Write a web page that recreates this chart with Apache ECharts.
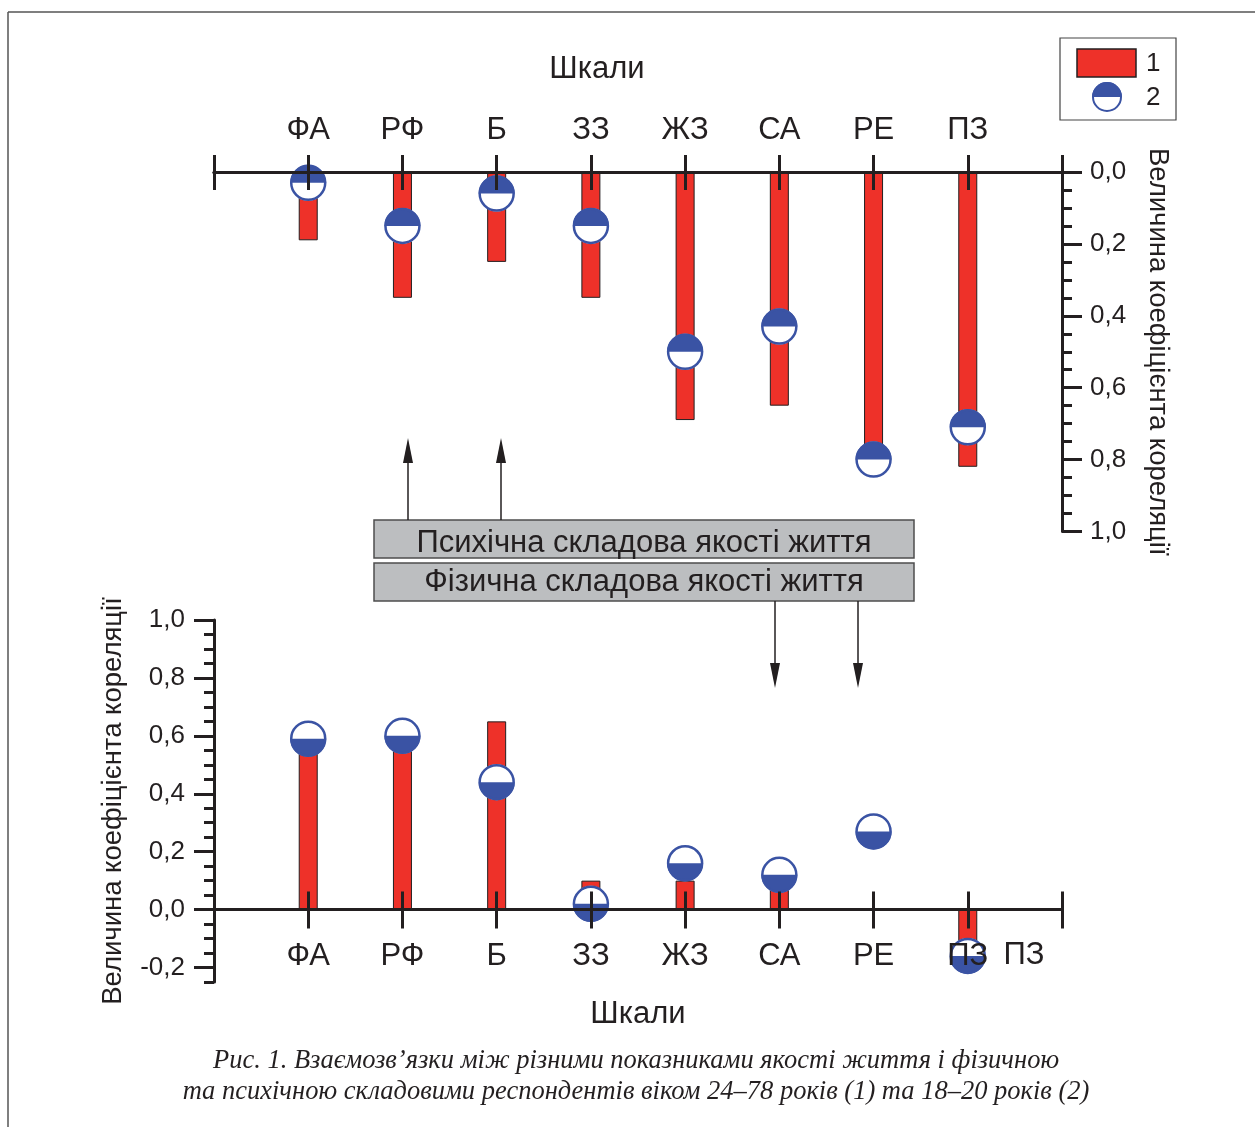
<!DOCTYPE html>
<html>
<head>
<meta charset="utf-8">
<script src="https://cdn.jsdelivr.net/npm/echarts@6/dist/echarts.min.js"></script>
<style>
html,body{margin:0;padding:0;background:#fff;}
#main{width:1255px;height:1127px;}
</style>
</head>
<body>
<div id="main"></div>
<script>
// ---- data ----
const categories = ['ФА', 'РФ', 'Б', 'ЗЗ', 'ЖЗ', 'СА', 'РЕ', 'ПЗ'];
// psychological component (top panel)
const psychGroup1 = [0.19, 0.35, 0.25, 0.35, 0.69, 0.65, 0.80, 0.82];
const psychGroup2 = [0.03, 0.15, 0.06, 0.15, 0.50, 0.43, 0.80, 0.71];
// physical component (bottom panel)
const physGroup1 = [0.58, 0.58, 0.65, 0.10, 0.10, 0.08, null, -0.12];
const physGroup2 = [0.59, 0.60, 0.44, 0.02, 0.16, 0.12, 0.27, -0.16];
const topTicks = [0, 0.2, 0.4, 0.6, 0.8, 1.0];
const bottomTicks = [-0.2, 0, 0.2, 0.4, 0.6, 0.8, 1.0];

const INK = '#231f20';
const RED = '#ee3129';
const BLUE = '#3a53a4';
const SANS = 'Liberation Sans, Arial, sans-serif';

const padCats = [' '].concat(categories, ['  ']);
const pairs = (vals) => categories.map((c, i) => [c, vals[i]]);
const fmt = (v) => v.toFixed(1).replace('.', ',');

function halfCircle(topFilled) {
  return function (params, api) {
    const p = api.coord([api.value(0), api.value(1)]);
    const r = 18;
    return {
      type: 'group',
      children: [
        { type: 'circle', shape: { cx: p[0], cy: p[1], r: r }, style: { fill: '#fff' } },
        { type: 'sector', shape: { cx: p[0], cy: p[1], r: r, r0: 0,
            startAngle: topFilled ? Math.PI : 0, endAngle: topFilled ? 2 * Math.PI : Math.PI, clockwise: true },
          style: { fill: BLUE } },
        { type: 'circle', shape: { cx: p[0], cy: p[1], r: r - 1 }, style: { fill: null, stroke: BLUE, lineWidth: 2.5 } }
      ]
    };
  };
}

const lineStyle = { color: INK, width: 3 };

function catAxis(grid, position, tickLen, showLabel, zeroIdx, labelMargin, extra) {
  return Object.assign({
    gridIndex: grid, type: 'category', data: padCats, boundaryGap: false, position: position, z: 10,
    axisLine: { show: true, onZero: true, onZeroAxisIndex: zeroIdx, lineStyle: lineStyle },
    axisTick: { show: true, interval: 0, length: tickLen, lineStyle: lineStyle },
    axisLabel: { show: showLabel, interval: 0, fontSize: 31, fontFamily: SANS, color: INK, margin: labelMargin },
    splitLine: { show: false }
  }, extra || {});
}

const option = {
  animation: false,
  backgroundColor: '#fff',
  grid: [
    { left: 214, top: 172, width: 848, height: 359.5 },
    { left: 214, top: 620, width: 848, height: 362 }
  ],
  xAxis: [
    catAxis(0, 'top', 17, true, 0, 26),
    catAxis(0, 'bottom', 18, false, 0, 0),
    catAxis(1, 'bottom', 19, true, 1, -41, {
      name: 'Шкали', nameLocation: 'middle', nameGap: 17,
      nameTextStyle: { fontSize: 31, fontFamily: SANS, color: INK }
    }),
    catAxis(1, 'top', 18, false, 1, 0)
  ],
  yAxis: [
    {
      gridIndex: 0, type: 'value', min: 0, max: 1, interval: 0.2, inverse: true, position: 'right', z: 10,
      axisLine: { show: true, lineStyle: lineStyle },
      axisTick: { show: true, length: 20, lineStyle: lineStyle },
      minorTick: { show: true, splitNumber: 4, length: 10, lineStyle: lineStyle },
      axisLabel: { fontSize: 26, fontFamily: SANS, color: INK, margin: 28, formatter: fmt },
      splitLine: { show: false },
      name: 'Величина коефіцієнта кореляції', nameLocation: 'middle', nameRotate: -90, nameGap: 82,
      nameTextStyle: { fontSize: 27.5, fontFamily: SANS, color: INK }
    },
    {
      gridIndex: 1, type: 'value', min: -0.25, max: 1, interval: 0.05, position: 'left', z: 10,
      axisLine: { show: true, onZero: false, lineStyle: lineStyle },
      axisTick: { show: true, length: 10, lineStyle: lineStyle },
      axisLabel: { show: false },
      splitLine: { show: false }
    },
    {
      gridIndex: 1, type: 'value', min: -0.25, max: 1, interval: 0.05, position: 'left', z: 10,
      axisLine: { show: false, onZero: false },
      axisTick: { show: true, length: 20, customValues: bottomTicks, lineStyle: lineStyle },
      axisLabel: { fontSize: 26, fontFamily: SANS, color: INK, margin: 29, customValues: bottomTicks, formatter: fmt },
      splitLine: { show: false },
      name: 'Величина коефіцієнта кореляції', nameLocation: 'middle', nameRotate: 90, nameGap: 87,
      nameTextStyle: { fontSize: 27.5, fontFamily: SANS, color: INK }
    }
  ],
  series: [
    {
      name: '1', type: 'bar', xAxisIndex: 0, yAxisIndex: 0, barWidth: 19, data: pairs(psychGroup1),
      itemStyle: { color: RED, borderColor: INK, borderWidth: 1 }
    },
    {
      name: '2', type: 'custom', xAxisIndex: 0, yAxisIndex: 0, data: pairs(psychGroup2),
      renderItem: halfCircle(true), z: 5
    },
    {
      name: '1', type: 'bar', xAxisIndex: 2, yAxisIndex: 1, barWidth: 19, data: pairs(physGroup1),
      itemStyle: { color: RED, borderColor: INK, borderWidth: 1 }
    },
    {
      name: '2', type: 'custom', xAxisIndex: 2, yAxisIndex: 1, data: pairs(physGroup2),
      renderItem: halfCircle(false), z: 5
    }
  ],
  graphic: [
    // frame
    { type: 'line', shape: { x1: 8, y1: 12, x2: 1255, y2: 12 }, style: { stroke: '#555', lineWidth: 1.5 } },
    { type: 'line', shape: { x1: 8, y1: 12, x2: 8, y2: 1127 }, style: { stroke: '#555', lineWidth: 1.5 } },
    // top title
    { type: 'text', x: 597, y: 69, style: { text: 'Шкали', font: '31px ' + SANS, fill: INK, textAlign: 'center', textVerticalAlign: 'middle' } },
    // legend
    { type: 'rect', shape: { x: 1060, y: 38, width: 116, height: 82 }, style: { fill: '#fff', stroke: '#444', lineWidth: 1.2 } },
    { type: 'rect', shape: { x: 1077, y: 49, width: 59, height: 28 }, style: { fill: RED, stroke: INK, lineWidth: 1.5 } },
    { type: 'text', x: 1146, y: 64, style: { text: '1', font: '26px ' + SANS, fill: INK, textAlign: 'left', textVerticalAlign: 'middle' } },
    { type: 'circle', shape: { cx: 1107, cy: 97, r: 15 }, style: { fill: '#fff' } },
    { type: 'sector', shape: { cx: 1107, cy: 97, r: 15, r0: 0, startAngle: Math.PI, endAngle: 2 * Math.PI, clockwise: true }, style: { fill: BLUE } },
    { type: 'circle', shape: { cx: 1107, cy: 97, r: 14 }, style: { fill: null, stroke: BLUE, lineWidth: 2 } },
    { type: 'text', x: 1146, y: 98, style: { text: '2', font: '26px ' + SANS, fill: INK, textAlign: 'left', textVerticalAlign: 'middle' } },
    // boxes
    { type: 'rect', shape: { x: 374, y: 520, width: 540, height: 38 }, style: { fill: '#bcbec0', stroke: '#4d4d4d', lineWidth: 1.5 } },
    { type: 'text', x: 644, y: 543, style: { text: 'Психічна складова якості життя', font: '31px ' + SANS, fill: INK, textAlign: 'center', textVerticalAlign: 'middle' } },
    { type: 'rect', shape: { x: 374, y: 563, width: 540, height: 38 }, style: { fill: '#bcbec0', stroke: '#4d4d4d', lineWidth: 1.5 } },
    { type: 'text', x: 644, y: 582, style: { text: 'Фізична складова якості життя', font: '31px ' + SANS, fill: INK, textAlign: 'center', textVerticalAlign: 'middle' } },
    // arrows up
    { type: 'line', shape: { x1: 408, y1: 520, x2: 408, y2: 455 }, style: { stroke: INK, lineWidth: 1.5 } },
    { type: 'polygon', shape: { points: [[408, 438], [403, 463], [413, 463]] }, style: { fill: INK } },
    { type: 'line', shape: { x1: 501, y1: 520, x2: 501, y2: 455 }, style: { stroke: INK, lineWidth: 1.5 } },
    { type: 'polygon', shape: { points: [[501, 438], [496, 463], [506, 463]] }, style: { fill: INK } },
    // arrows down
    { type: 'line', shape: { x1: 775, y1: 601, x2: 775, y2: 670 }, style: { stroke: INK, lineWidth: 1.5 } },
    { type: 'polygon', shape: { points: [[775, 688], [770, 663], [780, 663]] }, style: { fill: INK } },
    { type: 'line', shape: { x1: 858, y1: 601, x2: 858, y2: 670 }, style: { stroke: INK, lineWidth: 1.5 } },
    { type: 'polygon', shape: { points: [[858, 688], [853, 663], [863, 663]] }, style: { fill: INK } },
    // extra label
    { type: 'text', x: 1024, y: 955, style: { text: 'ПЗ', font: '31px ' + SANS, fill: INK, textAlign: 'center', textVerticalAlign: 'middle' } },
    // caption
    { type: 'text', x: 636, y: 1061, style: { text: 'Рис. 1. Взаємозв’язки між різними показниками якості життя і фізичною', font: 'italic 26.5px Liberation Serif, Times New Roman, serif', fill: INK, textAlign: 'center', textVerticalAlign: 'middle' } },
    { type: 'text', x: 636, y: 1092, style: { text: 'та психічною складовими респондентів віком 24–78 років (1) та 18–20 років (2)', font: 'italic 26.5px Liberation Serif, Times New Roman, serif', fill: INK, textAlign: 'center', textVerticalAlign: 'middle' } }
  ]
};

const chart = echarts.init(document.getElementById('main'), null, { renderer: 'canvas' });
chart.setOption(option);
</script>
</body>
</html>
